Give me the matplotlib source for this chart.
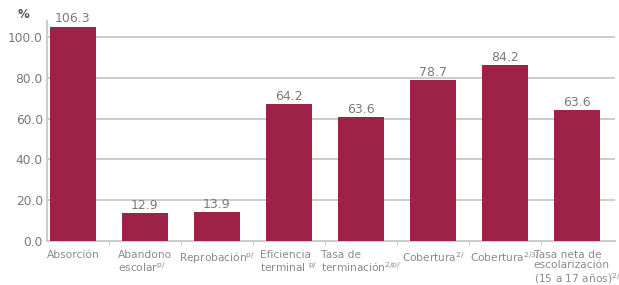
import matplotlib
matplotlib.use("Agg")
import matplotlib.pyplot as plt
import numpy as np

categories = [
    "Absorción",
    "Abandono\nescolar$^{\\mathrm{p/}}$",
    "Reprobación$^{\\mathrm{p/}}$",
    "Eficiencia\nterminal $^{\\mathrm{p/}}$",
    "Tasa de\nterminación$^{\\mathrm{2/p/}}$",
    "Cobertura$^{\\mathrm{2/}}$",
    "Cobertura$^{\\mathrm{2/3/}}$",
    "Tasa neta de\nescolarización\n(15 a 17 años)$^{\\mathrm{2/}}$",
]
bar_heights = [105.0, 13.7, 14.2, 67.2, 60.8, 78.9, 86.3, 64.2]
value_labels = ["106.3", "12.9", "13.9", "64.2", "63.6", "78.7", "84.2", "63.6"]
yticks = [0, 20, 40, 60, 80, 100]

FONT = "DejaVu Sans"
plt.rcParams["font.family"] = [FONT]
plt.rcParams["mathtext.fontset"] = "dejavusans"

bar_color = "#9E2148"
grid_color = "#c9cdcd"
text_color = "#7a7a7a"

fig = plt.figure(figsize=(6.19, 2.85), dpi=100)
ax = fig.add_axes([0.0759, 0.1544, 0.9935 - 0.0759, 0.927 - 0.1544])

x = np.arange(len(categories))
ax.bar(x, bar_heights, width=0.64, color=bar_color, zorder=3)

for xi, h, lab in zip(x, bar_heights, value_labels):
    ax.text(xi, h + 2.2, lab, ha="center", va="baseline", fontsize=9.0,
            color=text_color, zorder=4)

ax.set_ylim(0, 108)
ax.set_xlim(-0.36, 7.528)
ax.set_yticks(yticks)
ax.set_yticklabels([f"{v:.1f}" for v in yticks], fontsize=8.8, color=text_color)
ax.yaxis.grid(True, color=grid_color, linewidth=1.4, zorder=0)
ax.set_axisbelow(True)

ax.set_xticks(x)
ax.set_xticklabels(categories, fontsize=7.7, color="#8a8a8a",
                   multialignment="left", linespacing=1.05)
ax.tick_params(axis="x", which="major", length=0, pad=6.5)
ax.set_xticks(np.arange(0.5, len(categories) - 1, 1.0), minor=True)
ax.tick_params(axis="x", which="minor", length=3, color=grid_color, width=1)
ax.tick_params(axis="y", length=0, pad=3)

for s in ["top", "right"]:
    ax.spines[s].set_visible(False)
ax.spines["left"].set_color(grid_color)
ax.spines["left"].set_linewidth(1.4)
ax.spines["bottom"].set_color(grid_color)
ax.spines["bottom"].set_linewidth(1.4)

fig.text(24 / 619, 1 - 15 / 285, "%", fontsize=8.5, fontweight="bold",
         color="#555555", ha="center", va="center")

fig.savefig("out.png", dpi=100)
